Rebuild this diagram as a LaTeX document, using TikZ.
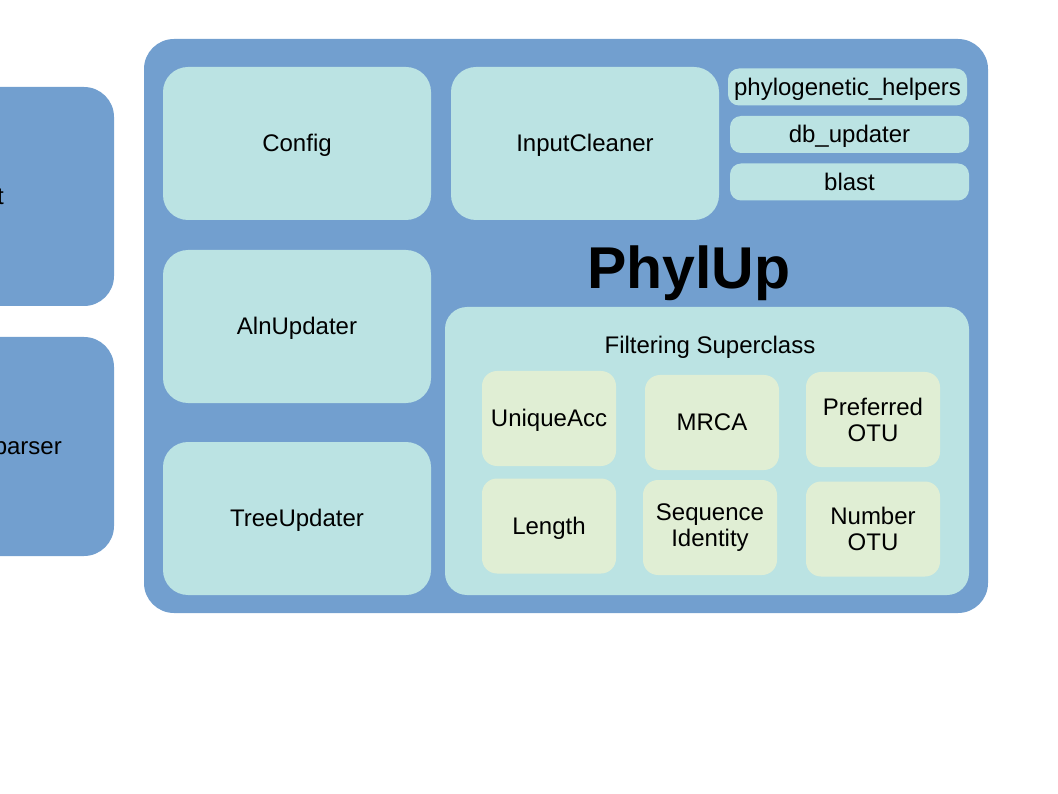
\documentclass[tikz,border=0pt]{standalone}
\usepackage{fontspec}
\setmainfont{Liberation Sans}
\definecolor{outerblue}{HTML}{729FCF}
\definecolor{modcyan}{HTML}{BBE3E3}
\definecolor{filtgreen}{HTML}{E0EED4}
\begin{document}
\begin{tikzpicture}[x=1pt,y=-1pt,
	every node/.style={inner sep=0pt,font=\fontsize{24}{26}\selectfont,align=center},
	oneline/.style={text height=21.7pt,text depth=5.1pt},
	outer/.style={fill=outerblue,rounded corners=30pt},
	module/.style={oneline,fill=modcyan,rounded corners=25pt,minimum width=268pt,minimum height=153pt},
	helper/.style={oneline,fill=modcyan,rounded corners=11pt,minimum width=239pt,minimum height=37pt},
	filt/.style={fill=filtgreen,rounded corners=15pt,minimum width=134pt,minimum height=95pt}]
		\useasboundingbox (0,0) rectangle (1058,794);
		% boxes cut off at the left edge
		\node[outer,minimum width=234pt,minimum height=219pt] (inbox) at (-3,196.5) {};
		\node[oneline,anchor=east] (intxt) at (4,196) {t};
		\node[outer,minimum width=234pt,minimum height=219pt] (parsebox) at (-3,446.5) {};
		\node[oneline,anchor=east] (parsetxt) at (62,446) {parser};
		% PhylUp
		\node[outer,minimum width=844pt,minimum height=574pt] (phylup) at (566,326) {};
		\node[text height=53.4pt,text depth=12.5pt,font=\fontsize{59}{60}\selectfont\bfseries] (title) at (689,268) {PhylUp};
		\node[module] (config) at (297,143.5) {Config};
		\node[module] (cleaner) at (585,143.5) {InputCleaner};
		\node[module] (aln) at (297,326.5) {AlnUpdater};
		\node[module] (tree) at (297,518.5) {TreeUpdater};
		\node[helper] (phylo) at (847.5,87) {phylogenetic\_helpers};
		\node[helper] (db) at (849.5,134.5) {db\_updater};
		\node[helper] (blast) at (849.5,182) {blast};
		% filtering
		\node[fill=modcyan,rounded corners=22pt,minimum width=524pt,minimum height=288pt] (filter) at (707,451) {};
		\node[oneline] (filtname) at (710,345) {Filtering Superclass};
		\node[filt,oneline] (unique) at (549,418.5) {UniqueAcc};
		\node[filt,oneline] (mrca) at (712,422.5) {MRCA};
		\node[filt] (pref) at (873,419.5) {Preferred\\OTU};
		\node[filt,oneline] (length) at (549,526) {Length};
		\node[filt] (seqid) at (710,527.5) {Sequence\\Identity};
		\node[filt] (numotu) at (873,529) {Number\\OTU};
\end{tikzpicture}
\end{document}
